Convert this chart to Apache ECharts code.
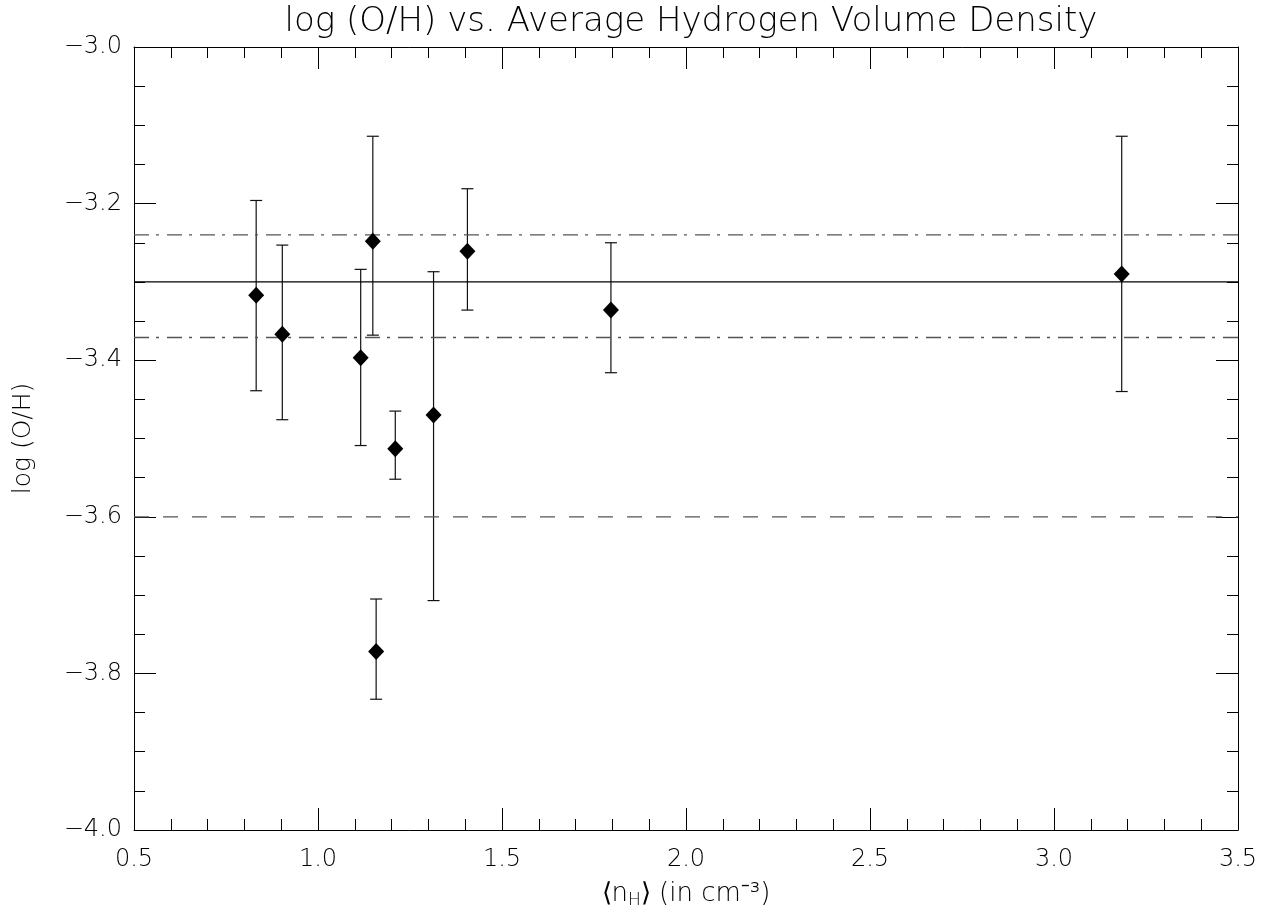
<!DOCTYPE html>
<html>
<head>
<meta charset="utf-8">
<script src="https://cdn.jsdelivr.net/npm/echarts@6/dist/echarts.min.js"></script>
<style>html,body{margin:0;padding:0;background:#fff;}#chart{width:1275px;height:920px;}</style>
</head>
<body>
<div id="chart"></div>
<script>
// Data
const xVals = [0.832, 0.903, 1.116, 1.149, 1.158, 1.210, 1.314, 1.406, 1.796, 3.184];
const yVals = [-3.317, -3.367, -3.397, -3.248, -3.772, -3.513, -3.470, -3.261, -3.336, -3.290];
const yHigh = [-3.196, -3.253, -3.284, -3.114, -3.705, -3.465, -3.287, -3.181, -3.250, -3.114];
const yLow  = [-3.439, -3.476, -3.509, -3.368, -3.833, -3.552, -3.707, -3.336, -3.416, -3.440];
const meanLine = -3.30;
const upperLine = -3.24;
const lowerLine = -3.371;
const dashedLine = -3.60;
const xRange = [0.5, 3.5];
const yRange = [-4.0, -3.0];
const titleText = 'log (O/H) vs. Average Hydrogen Volume Density';
const yName = 'log (O/H)';

const FONT = 'DejaVu Sans';
const FW = 200;
const chart = echarts.init(document.getElementById('chart'), null, {renderer: 'canvas'});

const points = xVals.map((x, i) => [x, yVals[i]]);
const errs = xVals.map((x, i) => [x, yLow[i], yHigh[i]]);
const hline = (v) => [[xRange[0], v], [xRange[1], v]];

const tickCommon = {
  axisLine: {show: true, lineStyle: {color: '#000', width: 1}},
  splitLine: {show: false},
};

const option = {
  backgroundColor: '#fff',
  animation: false,
  title: {
    text: titleText, left: 686, top: 0, textAlign: 'center',
    textStyle: {fontFamily: FONT, fontWeight: FW, fontSize: 34, color: '#000'}
  },
  grid: {left: 134, right: 37, top: 47, bottom: 90},
  xAxis: [
    Object.assign({
      type: 'value', min: xRange[0], max: xRange[1], interval: 0.5, position: 'bottom',
      axisTick: {show: true, inside: true, length: 22, lineStyle: {color: '#000'}},
      minorTick: {show: true, splitNumber: 5, length: 11, lineStyle: {color: '#000'}},
      axisLabel: {fontFamily: FONT, fontWeight: FW, fontSize: 24, color: '#000', margin: 18, formatter: (v) => v.toFixed(1)},
      name: '{t|⟨n}{s|H}{t|⟩ (in cm⁻³)}', nameLocation: 'middle', nameGap: 50,
      nameTextStyle: {rich: {
        t: {fontFamily: FONT, fontWeight: FW, fontSize: 26, color: '#000'},
        s: {fontFamily: FONT, fontWeight: FW, fontSize: 17, color: '#000', padding: [12, 0, 0, 0]}
      }}
    }, tickCommon),
    Object.assign({
      type: 'value', min: xRange[0], max: xRange[1], interval: 0.5, position: 'top',
      axisTick: {show: true, inside: true, length: 22, lineStyle: {color: '#000'}},
      minorTick: {show: true, splitNumber: 5, length: 11, lineStyle: {color: '#000'}},
      axisLabel: {show: false}
    }, tickCommon)
  ],
  yAxis: [
    Object.assign({
      type: 'value', min: yRange[0], max: yRange[1], interval: 0.2, position: 'left',
      axisTick: {show: true, inside: true, length: 22, lineStyle: {color: '#000'}},
      minorTick: {show: true, splitNumber: 4, length: 11, lineStyle: {color: '#000'}},
      axisLabel: {fontFamily: FONT, fontWeight: FW, fontSize: 24, color: '#000', margin: 12,
        formatter: (v) => '\u2212' + Math.abs(v).toFixed(1)},
      name: yName, nameLocation: 'middle', nameGap: 98, nameRotate: 90,
      nameTextStyle: {fontFamily: FONT, fontWeight: FW, fontSize: 25, color: '#000'}
    }, tickCommon),
    Object.assign({
      type: 'value', min: yRange[0], max: yRange[1], interval: 0.2, position: 'right',
      axisTick: {show: true, inside: true, length: 22, lineStyle: {color: '#000'}},
      minorTick: {show: true, splitNumber: 4, length: 11, lineStyle: {color: '#000'}},
      axisLabel: {show: false}
    }, tickCommon)
  ],
  series: [
    {type: 'line', data: hline(meanLine), symbol: 'none', silent: true,
     lineStyle: {color: '#000', width: 1.2, type: 'solid'}},
    {type: 'line', data: hline(upperLine), symbol: 'none', silent: true,
     lineStyle: {color: '#555', width: 1.3, type: [15, 7, 3, 8]}},
    {type: 'line', data: hline(lowerLine), symbol: 'none', silent: true,
     lineStyle: {color: '#555', width: 1.3, type: [15, 7, 3, 8]}},
    {type: 'line', data: hline(dashedLine), symbol: 'none', silent: true,
     lineStyle: {color: '#555', width: 1.3, type: [15, 14]}},
    {
      type: 'custom', data: errs, silent: true,
      renderItem: function (params, api) {
        const x = api.value(0);
        const lo = api.coord([x, api.value(1)]);
        const hi = api.coord([x, api.value(2)]);
        const cw = 6;
        const st = {stroke: '#111', lineWidth: 1.2};
        return {type: 'group', children: [
          {type: 'line', shape: {x1: lo[0], y1: lo[1], x2: hi[0], y2: hi[1]}, style: st},
          {type: 'line', shape: {x1: lo[0] - cw, y1: lo[1], x2: lo[0] + cw, y2: lo[1]}, style: st},
          {type: 'line', shape: {x1: hi[0] - cw, y1: hi[1], x2: hi[0] + cw, y2: hi[1]}, style: st}
        ]};
      },
      z: 3
    },
    {type: 'scatter', data: points, symbol: 'diamond', symbolSize: [16, 17],
     itemStyle: {color: '#000', opacity: 1}, z: 4}
  ]
};
chart.setOption(option);
</script>
</body>
</html>
